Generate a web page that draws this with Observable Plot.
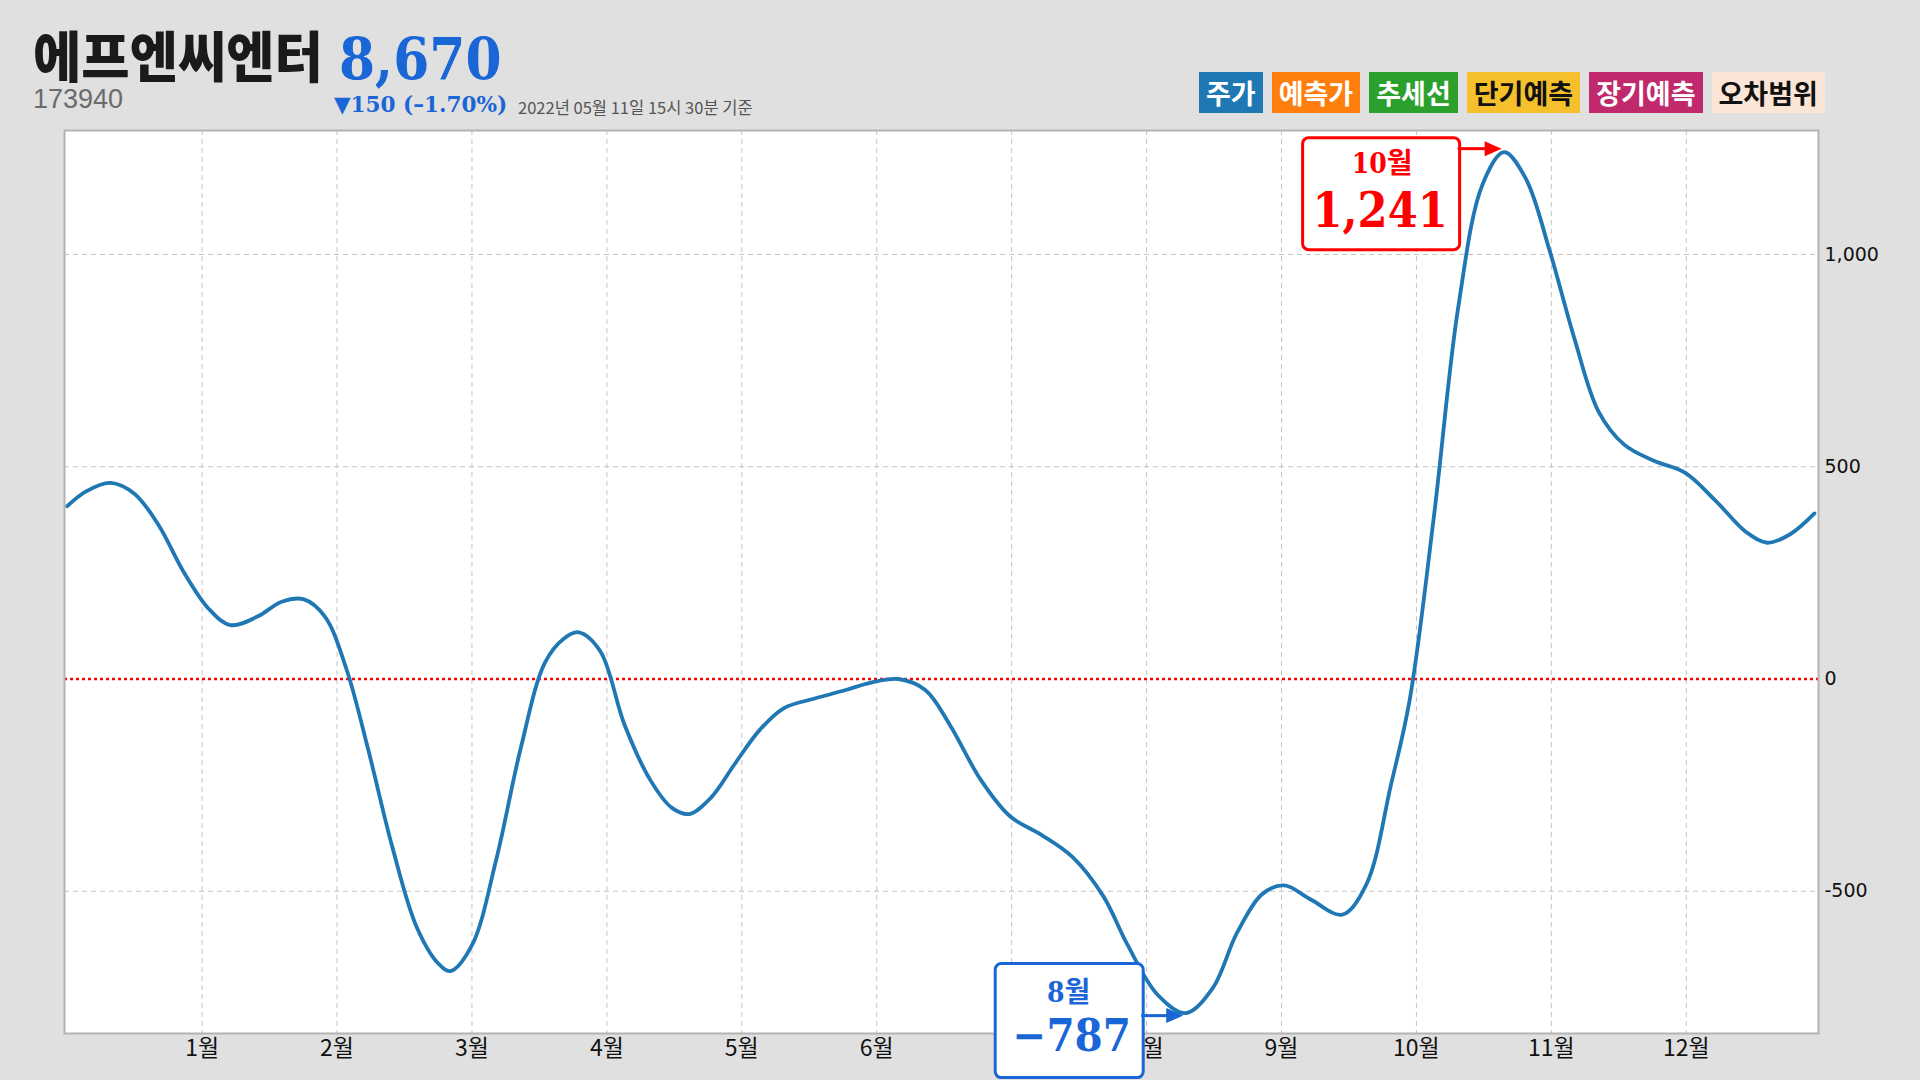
<!DOCTYPE html>
<html><head><meta charset="utf-8">
<script src="https://cdn.jsdelivr.net/npm/d3@7"></script>
<script src="https://cdn.jsdelivr.net/npm/@observablehq/plot@0.6"></script>
<style>
html,body{margin:0;padding:0;background:#e0e0e0;width:1920px;height:1080px;overflow:hidden;}
#header{position:relative;height:110px;width:1920px;}
#header div{position:absolute;white-space:nowrap;line-height:1;}
#title{left:33px;top:26px;font-family:"Noto Sans CJK KR";font-weight:900;font-size:55px;color:#1a1a1a;transform:scaleX(0.955);transform-origin:left top;}
#price{left:339px;top:30px;font-family:"DejaVu Serif";font-weight:bold;font-size:58px;color:#1a66d6;transform:scaleX(0.895);transform-origin:left top;}
#code{left:33px;top:86px;font-family:"Liberation Sans";font-size:27px;color:#6b6b6b;}
#change{left:334px;top:93px;font-family:"DejaVu Serif";font-weight:bold;font-size:22px;color:#1a66d6;transform:scaleX(0.98);transform-origin:left top;}
#asof{left:518px;top:99px;font-family:"Noto Sans CJK KR";font-size:16.5px;color:#555;}
#legend{left:1199px;top:72px;display:flex;gap:9px;}
#legend span{display:inline-block;height:41px;line-height:41px;padding:0 7px;font-family:"Noto Sans CJK KR";font-weight:bold;font-size:27px;}
#chart{width:1920px;height:970px;}
</style></head><body>
<div id="header">
  <div id="title"></div>
  <div id="price"></div>
  <div id="code"></div>
  <div id="change"></div>
  <div id="asof"></div>
  <div id="legend"></div>
</div>
<div id="chart"></div>
<script>
// ---- header data ----
const stockName = "에프엔씨엔터";
const stockCode = "173940";
const price = 8670;
const priceChange = -150;
const priceChangePct = -1.70;
const asOfText = "2022년 05월 11일 15시 30분 기준";

// ---- legend ----
const legendLabels = ["주가", "예측가", "추세선", "단기예측", "장기예측", "오차범위"];
const legendFills = ["#1f77b4", "#ff7f0e", "#2ca02c", "#f6c02c", "#c0296b", "#fbe5d6"];
const legendTextColors = ["#fff", "#fff", "#fff", "#111", "#fff", "#111"];

// ---- series (month position, value) ----
const months = [0.00,0.14,0.32,0.50,0.68,0.86,1.05,1.21,1.41,1.59,1.75,1.91,2.07,2.23,2.41,2.59,2.75,2.84,3.00,3.18,3.36,3.54,3.68,3.79,3.95,4.13,4.32,4.48,4.61,4.77,4.95,5.13,5.31,5.54,5.77,5.95,6.16,6.36,6.54,6.77,6.99,7.22,7.45,7.68,7.86,8.08,8.29,8.49,8.67,8.86,9.02,9.22,9.45,9.63,9.81,9.95,10.13,10.31,10.49,10.65,10.81,10.99,11.17,11.35,11.54,11.76,11.99,12.22,12.44,12.60,12.77,12.95];
const values = [407,442,462,436,361,254,165,127,147,182,188,147,23,-165,-396,-584,-670,-688,-627,-425,-165,38,95,110,66,-107,-237,-303,-318,-280,-199,-121,-69,-46,-26,-9,0,-26,-107,-237,-324,-367,-419,-512,-627,-743,-787,-728,-598,-506,-486,-520,-555,-483,-251,-49,384,876,1165,1241,1179,1006,803,630,552,514,486,419,347,321,341,390];

// ---- axes ----
const monthTicks = [1,2,3,4,5,6,7,8,9,10,11,12];
const monthLabels = ["1월","2월","3월","4월","5월","6월","7월","8월","9월","10월","11월","12월"];
const yTicks = [-500, 0, 500, 1000];
const yGridTicks = [-500, 500, 1000];
const xDomain = [-0.02, 12.98];
const yDomain = [-835, 1292];

// header
document.getElementById("title").textContent = stockName;
document.getElementById("price").textContent = d3.format(",")(price);
document.getElementById("code").textContent = stockCode;
document.getElementById("change").textContent =
  (priceChange < 0 ? "▼" : "▲") + Math.abs(priceChange) + " (" + (priceChangePct < 0 ? "–" : "+") + Math.abs(priceChangePct).toFixed(2) + "%)";
document.getElementById("asof").textContent = asOfText;
const legend = document.getElementById("legend");
legendLabels.forEach((l, i) => {
  const s = document.createElement("span");
  s.textContent = l;
  s.style.background = legendFills[i];
  s.style.color = legendTextColors[i];
  legend.appendChild(s);
});

const points = months.map((m, i) => ({m, v: values[i]}));
const peak = points[d3.maxIndex(values)];
const low = points[d3.minIndex(values)];
const fmt = d3.format(",");
const numFont = "'DejaVu Serif Condensed', 'DejaVu Serif', 'Noto Sans CJK KR', serif";

function arrowMark(pt, color, yOff, startOff) {
  return (index, scales) => {
    const px = scales.x(pt.m) - 2, py = scales.y(pt.v) + yOff;
    const g = d3.create("svg:g");
    g.append("line").attr("x1", px - startOff).attr("x2", px - 14).attr("y1", py).attr("y2", py)
      .attr("stroke", color).attr("stroke-width", 3);
    g.append("path").attr("d", `M${px},${py}L${px - 17},${py - 7.5}L${px - 17},${py + 7.5}Z`).attr("fill", color);
    return g.node();
  };
}

const chart = Plot.plot({
  width: 1920,
  height: 970,
  marginLeft: 64,
  marginRight: 102,
  marginTop: 20,
  marginBottom: 47,
  style: {background: "transparent", color: "#111", overflow: "visible"},
  x: {domain: xDomain, label: null},
  y: {domain: yDomain, label: null},
  marks: [
    Plot.frame({fill: "white"}),
    Plot.gridX(monthTicks, {stroke: "#c4c4c4", strokeOpacity: 1, strokeDasharray: "5,4", strokeWidth: 1}),
    Plot.gridY(yGridTicks, {stroke: "#c4c4c4", strokeOpacity: 1, strokeDasharray: "5,4", strokeWidth: 1}),
    Plot.ruleY([0], {stroke: "#ff0000", strokeDasharray: "3,3", strokeWidth: 2.5}),
    Plot.line(points, {x: "m", y: "v", curve: "catmull-rom", stroke: "#1f77b4", strokeWidth: 3.8}),
    Plot.axisX(monthTicks, {tickFormat: d => monthLabels[d - 1], tickSize: 0, tickPadding: 6, fontSize: 23, fontFamily: "Noto Sans CJK KR", label: null}),
    Plot.axisY(yTicks, {anchor: "right", tickFormat: d => d.toLocaleString("en-US"), tickSize: 0, tickPadding: 6, fontSize: 19, fontFamily: "DejaVu Sans", label: null}),
    Plot.frame({stroke: "#b3b3b3", strokeWidth: 2}),
    // max annotation
    Plot.rect([peak], {x1: "m", x2: "m", y1: "v", y2: "v", fill: "white", stroke: "#ff0000", strokeWidth: 3, rx: 6,
      insetLeft: -201, insetRight: 44, insetTop: -14, insetBottom: -98}),
    Plot.text([peak], {x: "m", y: "v", text: d => Math.floor(d.m) + "월", dx: -122, dy: 12, fill: "#ff0000", fontSize: 28, fontWeight: "bold", fontFamily: numFont}),
    Plot.text([peak], {x: "m", y: "v", text: d => fmt(d.v), dx: -124, dy: 59, fill: "#ff0000", fontSize: 48, fontWeight: "bold", fontFamily: numFont}),
    arrowMark(peak, "#ff0000", -3, 44),
    // min annotation
    Plot.rect([low], {x1: "m", x2: "m", y1: "v", y2: "v", fill: "white", stroke: "#1a66d6", strokeWidth: 3, rx: 6,
      insetLeft: -190, insetRight: 42, insetTop: -49, insetBottom: -65}),
    Plot.text([low], {x: "m", y: "v", text: d => Math.floor(d.m) + "월", dx: -117, dy: -20, fill: "#1a66d6", fontSize: 28, fontWeight: "bold", fontFamily: numFont}),
    Plot.text([low], {x: "m", y: "v", text: d => fmt(d.v), dx: -114, dy: 23, fill: "#1a66d6", fontSize: 45, fontWeight: "bold", fontFamily: numFont}),
    arrowMark(low, "#1a66d6", 3, 42)
  ]
});
document.getElementById("chart").appendChild(chart);
</script>
</body></html>
